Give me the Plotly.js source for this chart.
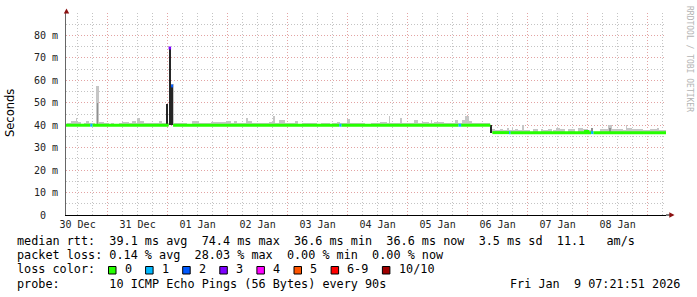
<!DOCTYPE html>
<html><head><meta charset="utf-8">
<script src="https://cdn.plot.ly/plotly-3.0.1.min.js"></script>
<style>html,body{margin:0;padding:0;background:#fff;} #chart{width:697px;height:297px;}</style>
</head><body><div id="chart"></div>
<script>
// ---------------- data (time in hours after 30 Dec 2025 00:00, rtt in ms) ----------------
const rangeStartH = 7.364;   // Tue 30 Dec 07:21:51
const rangeEndH = 247.364;   // Fri  9 Jan 07:21:51
const dayLabels = ['30 Dec','31 Dec','01 Jan','02 Jan','03 Jan','04 Jan','05 Jan','06 Jan','07 Jan','08 Jan'];
const dayNoonH = [12, 36, 60, 84, 108, 132, 156, 180, 204, 228];
const yTickMs = [0, 10, 20, 30, 40, 50, 60, 70, 80];
const yTickText = ['0  ', '10 m', '20 m', '30 m', '40 m', '50 m', '60 m', '70 m', '80 m'];

// median rtt, step segments: start hour, value, loss class (index into lossColors)
const medStartH = [7.364, 17.1, 17.9, 48.4, 49.4, 50.2, 116.7, 117.5, 164.4, 165.4, 177.1, 177.9, 184.6, 185.1, 215.2, 216.0, 217.4, 218.3];
const medMs     = [40.0,  40.0, 40.0, 74.4, 57.5, 40.0, 40.0,  40.0,  40.0,  40.0,  null,  36.7,  36.7,  36.7,  37.2,  36.7,  36.7,  36.7];
const medLoss   = [0,     1,    0,    3,    2,    0,    1,     0,     1,     0,     0,     0,     1,     0,     0,     0,     1,     0];

// lowest rtt level (bottom of the smoke)
const floorStartH = [7.364, 177.1];
const floorMs = [40.0, 36.7];

// light smoke: highest rtt per step
const smokeStartH = [7.364, 7.9, 9.2, 11.2, 11.9, 13.2, 14.6, 15.2, 16.6, 19.0, 19.4, 20.4, 22.6, 24.6, 25.2, 26.6, 28.6, 29.9, 32.6, 33.9,
  35.2, 35.9, 37.0, 38.6, 39.9, 41.2, 43.2, 44.6, 45.9, 47.4, 47.6, 47.9, 48.4, 49.4, 50.4, 51.9, 54.6, 55.9, 57.9, 60.6,
  62.6, 65.2, 71.2, 73.2, 74.6, 75.9, 79.2, 80.2, 81.9, 84.6, 88.7, 90.0, 91.1, 92.4, 93.5, 94.8, 97.5, 99.1, 100.0, 101.8,
  103.5, 105.8, 107.8, 109.5, 110.8, 113.1, 113.8, 115.8, 117.1, 119.8, 121.1, 123.1, 127.1, 129.5, 131.1, 133.1, 135.8, 136.4, 137.1, 139.1,
  140.2, 141.1, 141.8, 144.4, 146.4, 148.2, 149.8, 152.7, 153.4, 153.8, 154.4, 158.4, 161.8, 162.8, 164.2, 165.8, 167.1, 168.4, 169.6, 173.6,
  177.1, 177.9, 179.0, 181.0, 182.3, 183.6, 184.6, 185.9, 186.3, 187.0, 188.3, 189.6, 190.7, 193.0, 194.3, 196.3, 197.4, 198.3, 200.3, 201.6,
  202.3, 203.2, 205.0, 207.0, 208.3, 211.0, 212.3, 214.3, 216.0, 217.4, 218.3, 221.0, 224.3, 225.6, 227.6, 230.3, 231.2, 231.6, 233.6, 236.3,
  238.3, 241.0, 243.6, 244.6];
const smokeTopMs = [40.0, 41.2, 42.0, 43.0, 41.5, 40.0, 41.2, 42.0, 40.9, 40.0, 57.4, 41.5, 40.9, 40.0, 41.2, 40.0, 41.2, 41.5, 41.2, 42.0,
  41.2, 43.0, 42.0, 41.2, 40.9, 41.2, 40.9, 42.0, 41.2, 40.0, 54.0, 41.0, 40.0, 58.5, 41.2, 40.9, 41.2, 40.0, 42.0, 41.2,
  40.9, 41.5, 42.0, 41.2, 42.0, 41.2, 43.0, 42.0, 41.2, 40.9, 41.6, 43.9, 41.2, 42.2, 42.4, 41.2, 40.9, 42.0, 40.0, 41.2,
  40.9, 41.2, 40.0, 40.9, 41.2, 40.0, 41.2, 41.5, 41.2, 42.7, 41.2, 40.9, 40.0, 41.2, 40.9, 41.5, 40.9, 43.9, 40.9, 41.2,
  40.9, 43.4, 40.9, 41.2, 42.2, 40.9, 41.5, 40.9, 42.2, 40.9, 41.5, 41.2, 40.9, 42.2, 40.9, 42.2, 43.9, 42.0, 40.9, 41.2,
  36.7, 38.5, 37.9, 38.2, 37.9, 38.7, 37.9, 39.1, 37.9, 38.2, 37.9, 40.2, 37.9, 36.7, 38.2, 36.7, 38.5, 37.9, 38.5, 36.7,
  37.9, 38.7, 38.2, 36.7, 38.2, 36.7, 38.7, 38.2, 37.9, 38.7, 36.7, 38.2, 40.2, 38.2, 38.5, 37.9, 40.3, 38.7, 38.2, 38.2,
  37.9, 38.2, 38.7, 37.9];

// denser smoke (several pings stacked)
const midSmokeStartH = [19.6, 217.4, 224.6];
const midSmokeEndH   = [20.2, 218.3, 225.4];
const midSmokeTopMs  = [50.0, 38.7, 38.7];
const darkSmokeStartH = [47.4, 48.4, 49.4, 177.1];
const darkSmokeEndH   = [48.2, 49.4, 50.2, 177.9];
const darkSmokeTopMs  = [49.6, 74.4, 57.5, 40.0];

const lossLabels = ['0', '1', '2', '3', '4', '5', '6-9', '10/10'];
const lossColors = ['#26ff00', '#00b8ff', '#0059ff', '#7e00ff', '#ff00ff', '#ff5500', '#ff0000', '#a00000'];

const legendRows = [
  'median rtt:  39.1 ms avg  74.4 ms max  36.6 ms min  36.6 ms now  3.5 ms sd  11.1   am/s',
  'packet loss: 0.14 % avg  28.03 % max  0.00 % min  0.00 % now',
  'loss color:',
  'probe:       10 ICMP Echo Pings (56 Bytes) every 90s'
];
const stampText = 'Fri Jan  9 07:21:51 2026';

// ---------------- geometry ----------------
const L = 66, T = 13, W = 600, H = 202;
const px = x => (x - L) / W;
const py = y => (T + H - y) / H;
const MONO = 'DejaVu Sans Mono, monospace';
const nb = s => s.replace(/ /g, '\u00a0');

function floorAt(h) {
  let v = floorMs[0];
  for (let i = 0; i < floorStartH.length; i++) if (h >= floorStartH[i] - 1e-9) v = floorMs[i];
  return v;
}
function barsFrom(starts, ends, tops, color) {
  const x = [], w = [], base = [], y = [];
  for (let i = 0; i < starts.length; i++) {
    const b = floorAt(starts[i]);
    x.push((starts[i] + ends[i]) / 2); w.push(ends[i] - starts[i]);
    base.push(b); y.push(Math.max(0, tops[i] - b));
  }
  return {type: 'bar', x, width: w, base, y, marker: {color, line: {width: 0}}, hoverinfo: 'skip', showlegend: false};
}
const smokeEndH = smokeStartH.slice(1).concat([rangeEndH]);

const traces = [];
traces.push(barsFrom(smokeStartH, smokeEndH, smokeTopMs, '#c6c6c6'));
traces.push(barsFrom(midSmokeStartH, midSmokeEndH, midSmokeTopMs, '#909090'));
traces.push(barsFrom(darkSmokeStartH, darkSmokeEndH, darkSmokeTopMs, '#262626'));

// median line coloured by loss
lossColors.forEach((col, c) => {
  const x = [], y = [];
  let prevSame = false;
  for (let i = 0; i < medStartH.length; i++) {
    const v = medMs[i];
    const h0 = medStartH[i], h1 = i + 1 < medStartH.length ? medStartH[i + 1] : rangeEndH;
    if (v !== null && medLoss[i] === c) {
      if (!prevSame && x.length) { x.push(null); y.push(null); }
      x.push(h0, h1); y.push(v, v);
      prevSame = true;
    } else prevSame = false;
  }
  if (x.length) traces.push({type: 'scatter', mode: 'lines', x, y, line: {color: col, width: 3}, hoverinfo: 'skip', showlegend: false, connectgaps: false});
});
traces.push({type: 'scatter', x: [], y: [], xaxis: 'x2', yaxis: 'y', hoverinfo: 'skip', showlegend: false});

// ---------------- annotations & shapes ----------------
const ann = [];
const shapes = [];
ann.push({xref: 'paper', yref: 'paper', x: px(10), y: py(113), text: 'Seconds', textangle: -90, showarrow: false,
  xanchor: 'center', yanchor: 'middle', font: {family: 'DejaVu Sans, sans-serif', size: 11.5, color: '#000'}});
ann.push({xref: 'paper', yref: 'paper', x: px(689), y: py(59), text: nb('RRDTOOL / TOBI OETIKER'), textangle: 90, showarrow: false,
  xanchor: 'center', yanchor: 'middle', font: {family: MONO, size: 8, color: '#b4b4b4'}});
const rowY = [240.7, 255, 269.3, 283.7];
legendRows.forEach((t, i) => {
  ann.push({xref: 'paper', yref: 'paper', x: px(16), y: py(rowY[i]), text: nb(t), showarrow: false, borderpad: 0,
    xanchor: 'left', yanchor: 'middle', font: {family: MONO, size: 11.8, color: '#000'}});
});
ann.push({xref: 'paper', yref: 'paper', x: px(681), y: py(rowY[3]), text: nb(stampText), showarrow: false, borderpad: 0,
  xanchor: 'right', yanchor: 'middle', font: {family: MONO, size: 11.8, color: '#000'}});
let bx = 108.5;
lossLabels.forEach((lab, i) => {
  shapes.push({type: 'rect', xref: 'paper', yref: 'paper', x0: px(bx), x1: px(bx + 7.5), y0: py(266.5), y1: py(274),
    fillcolor: lossColors[i], line: {color: '#000', width: 1}});
  ann.push({xref: 'paper', yref: 'paper', x: px(bx + 15.3), y: py(rowY[2]), text: nb(lab), showarrow: false, borderpad: 0,
    xanchor: 'left', yanchor: 'middle', font: {family: MONO, size: 11.8, color: '#000'}});
  bx += 15.8 + (lab.length + 2) * 7.1;
});
// axis arrows
shapes.push({type: 'path', xref: 'paper', yref: 'paper',
  path: `M ${px(66.5)} ${py(8.5)} L ${px(63.8)} ${py(13.5)} L ${px(69.2)} ${py(13.5)} Z`, fillcolor: '#8b1010', line: {width: 0}});
shapes.push({type: 'line', xref: 'paper', yref: 'paper', x0: px(666), x1: px(670), y0: py(215), y1: py(215), line: {color: '#000', width: 1}});
shapes.push({type: 'path', xref: 'paper', yref: 'paper',
  path: `M ${px(674.5)} ${py(215)} L ${px(669.3)} ${py(212.3)} L ${px(669.3)} ${py(217.7)} Z`, fillcolor: '#8b1010', line: {width: 0}});

const majorGrid = '#e3a3a3', minorGrid = '#c4c4c4', dash = '1px,2px';
const layout = {
  width: 697, height: 297,
  margin: {l: L, r: 697 - L - W, t: T, b: 297 - T - H, pad: 0},
  paper_bgcolor: '#fff', plot_bgcolor: '#fff',
  showlegend: false, barmode: 'overlay', bargap: 0,
  xaxis: {range: [rangeStartH, rangeEndH], tickmode: 'linear', tick0: 0, dtick: 24, showticklabels: false,
    showgrid: true, gridcolor: majorGrid, griddash: dash, gridwidth: 1,
    minor: {tickmode: 'linear', tick0: 0, dtick: 6, showgrid: true, gridcolor: minorGrid, griddash: dash, gridwidth: 1},
    ticks: '', zeroline: false, showline: true, linecolor: '#000', linewidth: 1, fixedrange: true},
  xaxis2: {overlaying: 'x', anchor: 'y', side: 'bottom', range: [rangeStartH, rangeEndH], tickmode: 'array',
    tickvals: dayNoonH, ticktext: dayLabels, showgrid: false, zeroline: false, showline: false, ticks: '',
    ticklabelstandoff: 2, tickfont: {family: MONO, size: 10, color: '#222'}, fixedrange: true},
  yaxis: {range: [0, 90], tickmode: 'array', tickvals: yTickMs, ticktext: yTickText.map(nb),
    showgrid: true, gridcolor: majorGrid, griddash: dash, gridwidth: 1,
    minor: {tickmode: 'linear', tick0: 0, dtick: 5, showgrid: true, gridcolor: minorGrid, griddash: dash, gridwidth: 1},
    ticks: '', ticklabelstandoff: 5, zeroline: false, showline: true, linecolor: '#666', linewidth: 1,
    tickfont: {family: MONO, size: 10, color: '#222'}, fixedrange: true},
  annotations: ann, shapes: shapes
};
Plotly.newPlot('chart', traces, layout, {displayModeBar: false, staticPlot: true});
</script></body></html>
